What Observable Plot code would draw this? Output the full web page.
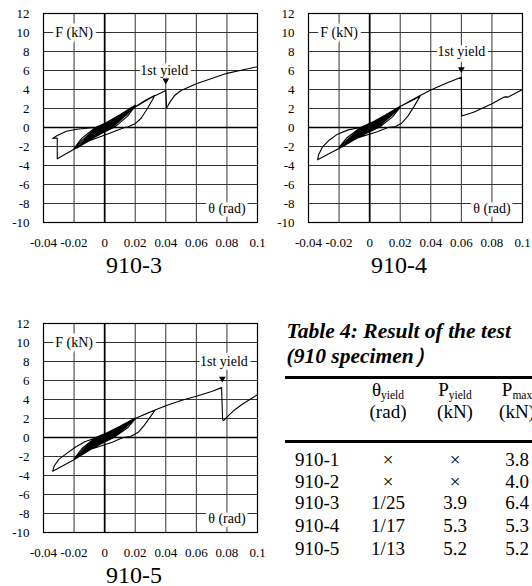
<!DOCTYPE html>
<html><head><meta charset="utf-8">
<script src="https://cdn.jsdelivr.net/npm/d3@7"></script>
<script src="https://cdn.jsdelivr.net/npm/@observablehq/plot@0.6"></script>
<style>
html,body{margin:0;padding:0;background:#fff;}
body{width:532px;height:586px;position:relative;overflow:hidden;font-family:"Liberation Serif","Times New Roman",serif;color:#000;}
.abs{position:absolute;white-space:nowrap;line-height:1;}
.chart{position:absolute;}
.chart svg text{font-family:"Liberation Serif","Times New Roman",serif !important;}
.sub{position:relative;top:3px;font-size:11.5px;}
</style></head><body>
<script>
// ---- axes ----
const xTicks = [-0.04, -0.02, 0, 0.02, 0.04, 0.06, 0.08, 0.1];
const xLabels = ["-0.04", "-0.02", "0", "0.02", "0.04", "0.06", "0.08", "0.1"];
const yTicks = [-10, -8, -6, -4, -2, 0, 2, 4, 6, 8, 10, 12];
const yLabels = ["-10", "-8", "-6", "-4", "-2", "0", "2", "4", "6", "8", "10", "12"];

// ---- 910-3 hysteresis (theta rad, F kN) ----
const curve910_3 = [
  [0,0],
  [0.002,0.32],[0.004,0.55],[0.0025,0.28],[0.0008,0],[-0.002,-0.32],[-0.004,-0.55],[-0.0025,-0.28],[-0.0008,0],
  [0.003,0.45],[0.006,0.8],[0.004,0.42],[0.0012,0],[-0.003,-0.45],[-0.006,-0.8],[-0.004,-0.42],[-0.0012,0],
  [0.004,0.6],[0.008,1.05],[0.0055,0.6],[0.0018,0],[-0.004,-0.6],[-0.008,-1.05],[-0.0055,-0.6],[-0.0018,0],
  [0.005,0.75],[0.01,1.3],[0.007,0.75],[0.0025,0],[-0.005,-0.75],[-0.01,-1.3],[-0.007,-0.75],[-0.0025,0],
  [0.005,0.72],[0.01,1.25],[0.0068,0.7],[0.0028,0.05],[-0.005,-0.72],[-0.01,-1.25],[-0.0068,-0.7],[-0.0028,-0.05],
  [0.006,0.9],[0.012,1.55],[0.0085,0.9],[0.003,0],[-0.006,-0.9],[-0.012,-1.55],[-0.0085,-0.9],[-0.003,0],
  [0.007,1.0],[0.014,1.75],[0.01,1.0],[0.0035,0],[-0.007,-1.0],[-0.014,-1.75],[-0.01,-1.0],[-0.0035,0],
  [0.007,0.98],[0.014,1.7],[0.0098,0.95],[0.004,0.05],[-0.007,-0.98],[-0.014,-1.7],[-0.0098,-0.95],[-0.004,-0.05],
  [0.008,1.12],[0.016,1.95],[0.0115,1.1],[0.004,0],[-0.008,-1.12],[-0.016,-1.95],[-0.0115,-1.1],[-0.004,0],
  [0.009,1.25],[0.018,2.15],[0.013,1.25],[0.0045,0],[-0.009,-1.25],[-0.018,-2.15],[-0.013,-1.25],[-0.0045,0],
  [0.01,1.35],[0.02,2.35],[0.0145,1.35],[0.005,0],[-0.01,-1.35],[-0.02,-2.3],[-0.0145,-1.3],[-0.005,0],
  [0.01,1.3],[0.02,2.25],[0.015,1.2],[0.007,0.1],[0.006,0],[-0.01,-1.25],[-0.02,-2.2],[-0.015,-1.15],[-0.006,0],
  [0.01,1.15],[0.02,2.2],[0.027,2.9],[0.033,3.4],[0.028,2.0],[0.024,1.0],[0.02,0.4],[0.015,0.05],[0.013,0],
  [0.005,-0.5],[-0.01,-1.4],[-0.02,-2.3],[-0.031,-3.3],[-0.031,-1.1],[-0.034,-1.15],[-0.031,-0.85],
  [-0.025,-0.4],[-0.018,-0.18],[-0.01,-0.05],[0,0.05],
  [0.005,0.5],[0.01,1.05],[0.02,2.15],[0.03,3.1],[0.04,3.9],[0.0405,2.05],[0.043,2.75],[0.046,3.4],
  [0.05,3.9],[0.06,4.6],[0.07,5.15],[0.08,5.7],[0.09,6.05],[0.1,6.4]
];
// ---- 910-4 ----
const curve910_4 = [
  [0,0],
  [0.002,0.3],[0.004,0.52],[0.0025,0.26],[0.0008,0],[-0.002,-0.3],[-0.004,-0.52],[-0.0025,-0.26],[-0.0008,0],
  [0.003,0.43],[0.006,0.76],[0.004,0.4],[0.0012,0],[-0.003,-0.43],[-0.006,-0.76],[-0.004,-0.4],[-0.0012,0],
  [0.004,0.57],[0.008,1.0],[0.0055,0.57],[0.0018,0],[-0.004,-0.57],[-0.008,-1.0],[-0.0055,-0.57],[-0.0018,0],
  [0.005,0.7],[0.01,1.22],[0.007,0.7],[0.0025,0],[-0.005,-0.7],[-0.01,-1.22],[-0.007,-0.7],[-0.0025,0],
  [0.005,0.68],[0.01,1.18],[0.0068,0.66],[0.0028,0.05],[-0.005,-0.68],[-0.01,-1.18],[-0.0068,-0.66],[-0.0028,-0.05],
  [0.006,0.84],[0.012,1.45],[0.0085,0.84],[0.003,0],[-0.006,-0.84],[-0.012,-1.45],[-0.0085,-0.84],[-0.003,0],
  [0.007,0.95],[0.014,1.65],[0.01,0.95],[0.0035,0],[-0.007,-0.95],[-0.014,-1.65],[-0.01,-0.95],[-0.0035,0],
  [0.007,0.92],[0.014,1.6],[0.0098,0.9],[0.004,0.05],[-0.007,-0.92],[-0.014,-1.6],[-0.0098,-0.9],[-0.004,-0.05],
  [0.008,1.06],[0.016,1.85],[0.0115,1.04],[0.004,0],[-0.008,-1.06],[-0.016,-1.85],[-0.0115,-1.04],[-0.004,0],
  [0.009,1.18],[0.018,2.05],[0.013,1.18],[0.0045,0],[-0.009,-1.18],[-0.018,-2.05],[-0.013,-1.18],[-0.0045,0],
  [0.01,1.3],[0.02,2.25],[0.0145,1.28],[0.005,0],[-0.01,-1.28],[-0.02,-2.2],[-0.0145,-1.25],[-0.005,0],
  [0.01,1.24],[0.02,2.15],[0.015,1.12],[0.007,0.1],[0.006,0],[-0.01,-1.2],[-0.02,-2.1],[-0.015,-1.1],[-0.006,0],
  [0.01,1.15],[0.02,2.2],[0.027,2.8],[0.033,3.3],[0.029,2.2],[0.025,1.2],[0.021,0.45],[0.017,0.1],[0.012,0],
  [0.005,-0.45],[-0.01,-1.2],[-0.02,-2.2],[-0.027,-2.8],[-0.034,-3.4],[-0.0335,-2.9],[-0.031,-2.1],
  [-0.027,-1.4],[-0.021,-0.7],[-0.014,-0.25],[-0.006,0],[0,0.1],
  [0.01,1.15],[0.02,2.2],[0.03,3.1],[0.04,3.95],[0.05,4.65],[0.06,5.3],[0.0602,1.2],[0.068,1.6],
  [0.08,2.5],[0.088,3.2],[0.0895,3.25],[0.09,3.15],[0.1,4.0]
];
// ---- 910-5 ----
const curve910_5 = [
  [0,0],
  [0.002,0.28],[0.004,0.48],[0.0025,0.24],[0.0008,0],[-0.002,-0.29],[-0.004,-0.5],[-0.0025,-0.25],[-0.0008,0],
  [0.003,0.4],[0.006,0.7],[0.004,0.37],[0.0012,0],[-0.003,-0.42],[-0.006,-0.75],[-0.004,-0.4],[-0.0012,0],
  [0.004,0.53],[0.008,0.92],[0.0055,0.52],[0.0018,0],[-0.004,-0.57],[-0.008,-1.0],[-0.0055,-0.57],[-0.0018,0],
  [0.005,0.65],[0.01,1.12],[0.007,0.64],[0.0025,0],[-0.005,-0.7],[-0.01,-1.22],[-0.007,-0.7],[-0.0025,0],
  [0.005,0.63],[0.01,1.08],[0.0068,0.6],[0.0028,0.05],[-0.005,-0.68],[-0.01,-1.18],[-0.0068,-0.66],[-0.0028,-0.05],
  [0.006,0.77],[0.012,1.33],[0.0085,0.77],[0.003,0],[-0.006,-0.86],[-0.012,-1.48],[-0.0085,-0.86],[-0.003,0],
  [0.007,0.88],[0.014,1.52],[0.01,0.88],[0.0035,0],[-0.007,-0.98],[-0.014,-1.7],[-0.01,-0.98],[-0.0035,0],
  [0.007,0.85],[0.014,1.48],[0.0098,0.83],[0.004,0.05],[-0.007,-0.95],[-0.014,-1.65],[-0.0098,-0.93],[-0.004,-0.05],
  [0.008,0.98],[0.016,1.7],[0.0115,0.96],[0.004,0],[-0.008,-1.1],[-0.016,-1.92],[-0.0115,-1.08],[-0.004,0],
  [0.009,1.08],[0.018,1.88],[0.013,1.08],[0.0045,0],[-0.009,-1.22],[-0.018,-2.12],[-0.013,-1.22],[-0.0045,0],
  [0.01,1.18],[0.02,2.05],[0.0145,1.16],[0.005,0],[-0.01,-1.35],[-0.02,-2.35],[-0.0145,-1.32],[-0.005,0],
  [0.01,1.12],[0.02,1.95],[0.015,1.02],[0.007,0.1],[0.006,0],[-0.01,-1.28],[-0.02,-2.25],[-0.015,-1.18],[-0.006,0],
  [0.01,1.05],[0.02,2.0],[0.027,2.5],[0.033,2.9],[0.03,2.2],[0.026,1.3],[0.022,0.55],[0.017,0.1],[0.012,0],
  [0.005,-0.5],[-0.01,-1.3],[-0.02,-2.35],[-0.027,-2.95],[-0.034,-3.55],[-0.033,-3.0],[-0.03,-2.3],
  [-0.025,-1.7],[-0.019,-1.0],[-0.013,-0.45],[-0.006,-0.05],[0,0.1],
  [0.01,1.05],[0.02,2.0],[0.033,2.9],[0.04,3.35],[0.05,3.9],[0.06,4.35],[0.07,4.85],[0.0765,5.25],
  [0.0772,1.85],[0.078,1.8],[0.081,2.3],[0.085,2.9],[0.09,3.5],[0.095,4.0],[0.1,4.5]
];

// ---- first-yield markers & annotations ----
const yieldMarks = {"910-3": [0.04, 4.95], "910-4": [0.06, 6.15], "910-5": [0.077, 6.2]};
const notes910_3 = [{x:-0.02, y:10, t:"F (kN)"}, {x:0.08, y:-8.55, t:"θ (rad)"}, {x:0.039, y:6, t:"1st yield"}];
const notes910_4 = [{x:-0.02, y:10, t:"F (kN)"}, {x:0.08, y:-8.55, t:"θ (rad)"}, {x:0.06, y:8, t:"1st yield"}];
const notes910_5 = [{x:-0.02, y:10, t:"F (kN)"}, {x:0.08, y:-8.55, t:"θ (rad)"}, {x:0.078, y:8, t:"1st yield"}];

// ---- table ----
const tableTitle = ["Table 4: Result of the test", "(910 specimen）"];
const specimens = ["910-1", "910-2", "910-3", "910-4", "910-5"];
const thetaYield = ["×", "×", "1/25", "1/17", "1/13"];
const pYield = ["×", "×", "3.9", "5.3", "5.2"];
const pMax = ["3.8", "4.0", "6.4", "5.3", "5.2"];

const serif = "Liberation Serif";
function chart(series, marker, notes, title) {
  return Plot.plot({
    width: 266, height: 290,
    marginLeft: 43, marginRight: 9, marginTop: 13, marginBottom: 68,
    style: "font-family: 'Liberation Serif', serif; font-size: 13px; color: #000; background: transparent; overflow: visible;",
    x: {domain: [-0.04, 0.1]},
    y: {domain: [-10, 12]},
    marks: [
      Plot.gridX(xTicks, {stroke: "#333", strokeOpacity: 1, strokeWidth: 1}),
      Plot.gridY(yTicks, {stroke: "#333", strokeOpacity: 1, strokeWidth: 1}),
      Plot.ruleX([0], {stroke: "#000", strokeWidth: 1.7}),
      Plot.ruleY([0], {stroke: "#000", strokeWidth: 1.7}),
      Plot.line(series, {x: d => d[0], y: d => d[1], stroke: "#000", strokeWidth: 1.1}),
      Plot.frame({stroke: "#000", strokeWidth: 1.2}),
      Plot.text(notes, {x: "x", y: "y", text: "t", fontSize: 14, fontFamily: serif, fill: "#000", stroke: "#fff", strokeWidth: 7, paintOrder: "stroke"}),
      Plot.dot([marker], {x: d => d[0], y: d => d[1], symbol: "triangle", r: 2.5, fill: "#000", stroke: "none", rotate: 180}),
      Plot.axisX(xTicks, {tickSize: 0, tickPadding: 15, tickFormat: d => xLabels[xTicks.indexOf(d)], fontSize: 13, fontFamily: serif, label: null}),
      Plot.axisY(yTicks, {tickSize: 0, tickPadding: 14, tickFormat: d => yLabels[yTicks.indexOf(d)], fontSize: 13, fontFamily: serif, label: null}),
      Plot.text([title], {frameAnchor: "bottom", dx: -16.5, dy: 50, lineAnchor: "bottom", fontSize: 24, fontFamily: serif, text: d => d})
    ]
  });
}

function addChart(svg, left, top) {
  const w = document.createElement("div");
  w.className = "chart";
  w.style.left = left + "px";
  w.style.top = top + "px";
  w.appendChild(svg);
  document.body.appendChild(w);
}
addChart(chart(curve910_3, yieldMarks["910-3"], notes910_3, "910-3"), 0, 0);
addChart(chart(curve910_4, yieldMarks["910-4"], notes910_4, "910-4"), 265, 0);
addChart(chart(curve910_5, yieldMarks["910-5"], notes910_5, "910-5"), 0, 310);

function put(html, x, base, fs, opts = {}) {
  const d = document.createElement("div");
  d.className = "abs";
  d.style.fontSize = fs + "px";
  d.style.top = (base - 0.8375 * fs) + "px";
  d.style.left = x + "px";
  if (opts.center) d.style.transform = "translateX(-50%)";
  if (opts.bold) d.style.fontWeight = "bold";
  if (opts.italic) d.style.fontStyle = "italic";
  d.innerHTML = html;
  document.body.appendChild(d);
}
function rule(y, h) {
  const d = document.createElement("div");
  d.style.cssText = `position:absolute;left:285px;width:260px;top:${y}px;height:${h}px;background:#000;`;
  document.body.appendChild(d);
}

put(tableTitle[0], 286.5, 339, 21.5, {bold: true, italic: true});
put(tableTitle[1], 286.5, 364, 21.5, {bold: true, italic: true});
rule(376, 2.5);
const colX = [388, 455, 517];
put('θ<span class="sub">yield</span>', colX[0], 396, 19, {center: true});
put('(rad)', colX[0], 418, 19, {center: true});
put('P<span class="sub">yield</span>', colX[1], 396, 19, {center: true});
put('(kN)', colX[1], 418, 19, {center: true});
put('P<span class="sub">max</span>', colX[2], 396, 19, {center: true});
put('(kN)', colX[2], 418, 19, {center: true});
rule(440, 2.5);
const rowBase = [466, 488, 509, 532, 555];
specimens.forEach((s, i) => {
  put(s, 295, rowBase[i], 19);
  put(thetaYield[i], colX[0], rowBase[i], 19, {center: true});
  put(pYield[i], colX[1], rowBase[i], 19, {center: true});
  put(pMax[i], colX[2], rowBase[i], 19, {center: true});
});
</script></body></html>
